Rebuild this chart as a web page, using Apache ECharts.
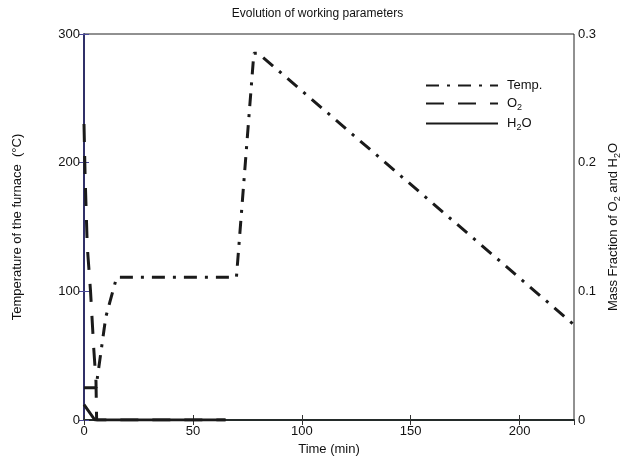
<!DOCTYPE html>
<html>
<head>
<meta charset="utf-8">
<script src="https://cdn.jsdelivr.net/npm/echarts@6/dist/echarts.min.js"></script>
<style>
	html, body { margin: 0; padding: 0; background: #fff; }
	#myChart { width: 635px; height: 462px; }
</style>
</head>
<body>
<div id="myChart"></div>
<script>
// data (time in min)
var tempData = [[0, 25], [5.5, 25], [10, 80], [15, 111], [70, 111], [78, 285], [80, 285], [225, 74]];
var o2Data = [[0, 0.23], [0.5, 0.19], [1.5, 0.135], [3, 0.1], [4.5, 0.055], [5.5, 0.03], [5.8, 0], [65, 0]];
var h2oData = [[0, 0.012], [5, 0], [65, 0]];
var seriesNames = ['Temp.', 'O2', 'H2O'];
var leftTicks = [0, 100, 200, 300];
var rightTicks = [0, 0.1, 0.2, 0.3];

var myChart = echarts.init(document.getElementById('myChart'));
var font = 'Liberation Sans, Arial, sans-serif';
var sub = { fontSize: 9, fontFamily: font, color: '#111', padding: [8, 0, 0, 0] };

var option = {
	backgroundColor: '#fff',
	animation: false,
	title: {
		text: 'Evolution of working parameters',
		left: 'center',
		top: 3,
		textStyle: { fontSize: 12, fontWeight: 'normal', color: '#111', fontFamily: font }
	},
	grid: {
		left: 84, right: 61, top: 34, bottom: 42,
		show: true, borderColor: '#222', borderWidth: 1
	},
	legend: {
		orient: 'vertical',
		left: 420,
		top: 74,
		itemWidth: 72,
		itemHeight: 10,
		itemGap: 5,
		data: seriesNames,
		itemStyle: { opacity: 0 },
		textStyle: {
			fontSize: 13, color: '#111', fontFamily: font, padding: [0, 0, 0, 4],
			rich: { n: { fontSize: 13, fontFamily: font, color: '#111' }, s: sub }
		},
		formatter: function (name) {
			if (name === 'O2') return '{n|O}{s|2}';
			if (name === 'H2O') return '{n|H}{s|2}{n|O}';
			return name;
		}
	},
	xAxis: [{
		type: 'value',
		min: 0, max: 225, interval: 50,
		name: 'Time (min)',
		nameLocation: 'middle',
		nameGap: 22,
		nameTextStyle: { fontSize: 13, color: '#111', fontFamily: font },
		axisLine: { lineStyle: { color: '#2e4a44', width: 2 } },
		axisTick: { inside: true, length: 5, lineStyle: { color: '#333' } },
		axisLabel: { fontSize: 13, color: '#111', fontFamily: font, margin: 5, showMaxLabel: false },
		splitLine: { show: false }
	}, {
		type: 'value',
		position: 'top',
		min: 0, max: 225, interval: 50,
		axisLine: { lineStyle: { color: '#222', width: 1.5 } },
		axisTick: { inside: true, length: 5, lineStyle: { color: '#333' } },
		axisLabel: { show: false },
		splitLine: { show: false }
	}],
	yAxis: [{
		type: 'value',
		min: 0, max: 300, interval: 100,
		name: 'Temperature of the furnace  (°C)',
		nameLocation: 'middle',
		nameGap: 60,
		nameTextStyle: { fontSize: 13, color: '#111', fontFamily: font },
		axisLine: { show: true, lineStyle: { color: '#2a2a66', width: 1.5 } },
		axisTick: { inside: true, length: 5, lineStyle: { color: '#4a4a99' } },
		axisLabel: {
			fontSize: 13, color: '#111', fontFamily: font, margin: 4,
			formatter: function (v) { return leftTicks.indexOf(v) >= 0 ? String(v) : ''; }
		},
		splitLine: { show: false }
	}, {
		type: 'value',
		min: 0, max: 0.3, interval: 0.1,
		position: 'right',
		name: '{n|Mass Fraction of O}{s|2}{n| and H}{s|2}{n|O}',
		nameLocation: 'middle',
		nameGap: 30,
		nameRotate: 90,
		nameTextStyle: {
			fontSize: 13, color: '#111', fontFamily: font,
			rich: { n: { fontSize: 13, fontFamily: font, color: '#111' }, s: sub }
		},
		axisLine: { show: true, lineStyle: { color: '#2a2a66', width: 1.5 } },
		axisTick: { inside: true, length: 5, lineStyle: { color: '#4a4a99' } },
		axisLabel: {
			fontSize: 13, color: '#111', fontFamily: font, margin: 4,
			formatter: function (v) {
				var i = rightTicks.findIndex(function (t) { return Math.abs(t - v) < 1e-9; });
				return i >= 0 ? String(rightTicks[i]) : '';
			}
		},
		splitLine: { show: false }
	}],
	series: [{
		name: 'Temp.',
		type: 'line',
		symbol: 'none',
		xAxisIndex: 0, yAxisIndex: 0,
		lineStyle: { color: '#1a1a1a', width: 3, type: [13, 8, 3, 8] },
		itemStyle: { color: '#1a1a1a' },
		data: tempData
	}, {
		name: 'O2',
		type: 'line',
		symbol: 'none',
		xAxisIndex: 0, yAxisIndex: 1,
		lineStyle: { color: '#1a1a1a', width: 3, type: [18, 14] },
		itemStyle: { color: '#1a1a1a' },
		data: o2Data
	}, {
		name: 'H2O',
		type: 'line',
		symbol: 'none',
		xAxisIndex: 0, yAxisIndex: 1,
		lineStyle: { color: '#1a1a1a', width: 3 },
		itemStyle: { color: '#1a1a1a' },
		data: h2oData
	}]
};
myChart.setOption(option);
</script>
</body>
</html>
